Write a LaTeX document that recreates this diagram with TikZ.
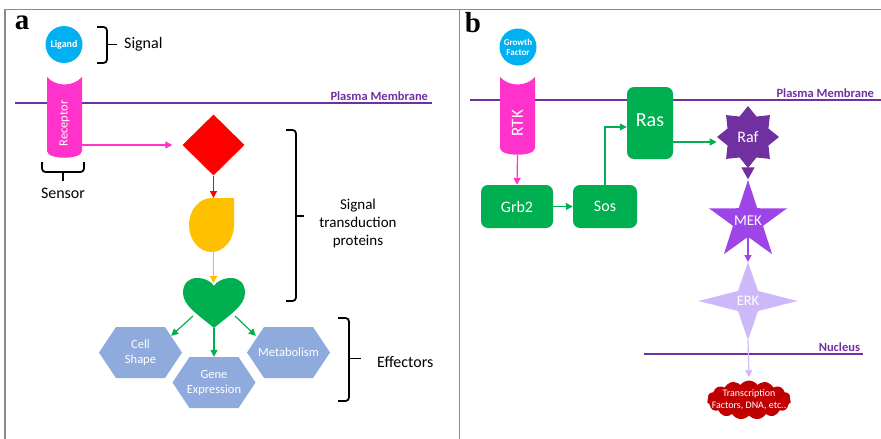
\documentclass[tikz,border=0pt]{standalone}
\usepackage{fontspec}
\setmainfont{Carlito}
\newfontfamily\panelfont{Liberation Serif}
\usetikzlibrary{shapes.geometric,shapes.symbols,arrows.meta,calc}

\definecolor{framec}{HTML}{8C8C8C}
\definecolor{cyanc}{HTML}{00B0F0}
\definecolor{pinkc}{HTML}{FF33CC}
\definecolor{memc}{HTML}{7030A0}
\definecolor{redc}{HTML}{FF0000}
\definecolor{yellowc}{HTML}{FFC000}
\definecolor{greenc}{HTML}{00B050}
\definecolor{hexc}{HTML}{8FAADC}
\definecolor{rafc}{HTML}{7030A0}
\definecolor{mekc}{HTML}{9D45E8}
\definecolor{erkc}{HTML}{CDB8FA}
\definecolor{cloudc}{HTML}{C00000}

\newcommand{\ppbb}{path picture bounding box}

\begin{document}
\begin{tikzpicture}[x=1pt,y=-1pt,
  frame/.style={draw=framec, line width=1.6pt},
  membrane/.style={draw=memc, line width=2pt},
  memlabel/.style={text=memc, font=\bfseries\fontsize{12.5}{14}\selectfont,
    anchor=south east, inner sep=1pt},
  brace/.style={draw=black, line width=1.8pt, rounded corners=3.5pt},
  caption/.style={font=\fontsize{16}{19}\selectfont, inner sep=0},
  panellabel/.style={font=\panelfont\bfseries\fontsize{29}{29}\selectfont, inner sep=0},
  ball/.style={circle, fill=cyanc, minimum size=37pt, inner sep=0, text=white},
  arr/.style={line width=1.2pt, -{Triangle[length=7pt,width=7pt]}},
  bigarr/.style={line width=1.2pt, -{Triangle[length=12pt,width=13pt]}},
  vtext/.style={rotate=90, text=white, inner sep=0},
  ghost/.style={inner sep=0, outer sep=0},
  receptorbody/.style={minimum width=35pt, inner sep=0,
    path picture={\fill[pinkc] (\ppbb.north west)
      .. controls +(9pt,-10pt) and +(-9pt,-10pt) .. (\ppbb.north east)
      -- ([yshift=7pt]\ppbb.south east)
      .. controls +(0pt,-9pt) and +(0pt,-9pt) .. ([yshift=7pt]\ppbb.south west)
      -- cycle;}},
  hexnode/.style={minimum width=83pt, minimum height=51pt, inner sep=0,
    align=center, text=white, font=\fontsize{12.5}{15}\selectfont,
    path picture={\fill[hexc] (\ppbb.west)
      -- ([xshift=17pt]\ppbb.north west) -- ([xshift=-17pt]\ppbb.north east)
      -- (\ppbb.east)
      -- ([xshift=-17pt]\ppbb.south east) -- ([xshift=17pt]\ppbb.south west)
      -- cycle;}},
  gbox/.style={rectangle, rounded corners=7pt, fill=greenc, text=white,
    inner sep=0, font=\fontsize{16}{19}\selectfont},
  starnode/.style={star, inner sep=0},
  startext/.style={text=white, inner sep=0}
]
\useasboundingbox (0,0) rectangle (881,439);

% panel frames
\draw[frame] (5,439) -- (5,9.5) -- (881,9.5);
\draw[frame] (459.5,9.5) -- (459.5,439);

% ---------------- panel a ----------------
\node[panellabel] (la) at (22,23) {a};
\node[ball, font=\bfseries\fontsize{10}{11}\selectfont] (ligand) at (64,44.5) {Ligand};
\draw[brace] (97,27) -- (107,27) -- (107,63) -- (97,63);
\draw[brace] (107,44.5) -- (117,44.5);
\node[caption, anchor=west] (signal) at (124,44.5) {Signal};

\draw[membrane] (15,102.5) -- (432,102.5)
  node[memlabel, xshift=-2pt] (pma) {Plasma Membrane};

\node[receptorbody, minimum height=81pt] (receptor) at (64.5,117.5) {};
\node[vtext, font=\fontsize{12.5}{14}\selectfont] (receptortext)
  at ([yshift=-6pt]receptor.center) {Receptor};

\draw[brace] (42,162) -- (42,172) -- (84,172) -- (84,162);
\draw[brace] (63,172) -- (63,181);
\node[caption] (sensor) at (63,193) {Sensor};

% signal transduction proteins: diamond, teardrop, heart
\node[diamond, fill=redc, minimum width=62pt, minimum height=61pt, inner sep=0]
  (sig1) at (213.5,145) {};
\fill[yellowc] (234,198) -- (211.5,198)
  .. controls (199.1,198) and (189,210.1) .. (189,225)
  .. controls (189,239.9) and (199.1,252) .. (211.5,252)
  .. controls (223.9,252) and (234,239.9) .. (234,225) -- cycle;
\node[ghost, minimum width=45pt, minimum height=54pt] (sig2) at (211.5,225) {};
\fill[greenc] (214,328)
  .. controls (200,316) and (183,306) .. (183,293)
  .. controls (183,283) and (189,278) .. (197,278)
  .. controls (205,278) and (212,282) .. (214,286)
  .. controls (216,282) and (223,278) .. (231,278)
  .. controls (239,278) and (245,283) .. (245,293)
  .. controls (245,306) and (228,316) .. (214,328) -- cycle;
\node[ghost, minimum width=62pt, minimum height=50pt] (sig3) at (214,303) {};
\coordinate (notch) at (214,286);

\draw[arr, pinkc, shorten >=10pt] (receptor.east |- sig1) -- (sig1.west);
\draw[arr, redc] (sig1.south) -- (sig1.south |- sig2.north);
\draw[arr, yellowc, shorten >=3pt] (sig1.south |- sig2.south) -- (sig1.south |- notch);

\draw[brace] (286,130) -- (296,130) -- (296,301) -- (286,301);
\draw[brace] (296,216) -- (304,216);
\node[align=center, inner sep=0, font=\fontsize{15}{18}\selectfont] (transd)
  at (358,223) {Signal\\transduction\\proteins};

\node[hexnode] (cellshape) at (140.5,352.5) {Cell\\Shape};
\node[hexnode] (gene) at (214,382.5) {Gene\\Expression};
\node[hexnode] (metab) at (288.5,352.5) {Metabolism};

\draw[arr, greenc] ($(sig3.center)+(-21,13)$) -- ($(cellshape.north east)+(-11,9)$);
\draw[arr, greenc] (sig3.south) -- (gene.north);
\draw[arr, greenc] ($(sig3.center)+(21,13)$) -- ($(metab.north west)+(9,9)$);

\draw[brace] (338,318) -- (349,318) -- (349,401) -- (338,401);
\draw[brace] (349,358.5) -- (361,358.5);
\node[caption, anchor=west] (effectors) at (377,362) {Effectors};

% ---------------- panel b ----------------
\node[panellabel] (lb) at (473,23) {b};
\node[ball, align=center, font=\bfseries\fontsize{9}{10}\selectfont] (gf)
  at (518,47) {Growth\\Factor};

\draw[membrane] (470,100) -- (881,100)
  node[memlabel, xshift=-5pt] (pmb) {Plasma Membrane};

\node[receptorbody, minimum height=78pt] (rtk) at (517.5,116) {};
\node[vtext, font=\fontsize{17}{20}\selectfont] (rtktext)
  at ([yshift=-7pt]rtk.center) {RTK};

\node[gbox, minimum width=72pt, minimum height=43pt] (grb2) at (517,206.5) {Grb2};
\node[gbox, minimum width=64pt, minimum height=43pt] (sos) at (605,206.5) {Sos};
\node[gbox, minimum width=46pt, minimum height=72pt,
  font=\fontsize{20}{24}\selectfont] (ras) at (650,123) {\raisebox{6pt}{Ras}};

\node[starnode, star points=8, star point ratio=1.4, minimum size=62pt, fill=rafc,
  label={[startext, font=\fontsize{16}{19}\selectfont]center:Raf}] (raf) at (748,137) {};
\node[starnode, star points=5, star point ratio=2.6, minimum size=82pt, fill=mekc,
  label={[startext, font=\fontsize{15}{18}\selectfont]center:MEK}] (mek) at (748,221) {};

\draw[membrane] (644,354) -- (863,354) node[memlabel, xshift=-1pt] (nuc) {Nucleus};

% four-pointed ERK star
\fill[erkc] (748,262) -- (758,291) -- (797.5,301) -- (758,311) -- (748,340)
  -- (738,311) -- (698.5,301) -- (738,291) -- cycle;
\node[ghost, minimum width=99pt, minimum height=78pt, text=white,
  font=\fontsize{14.5}{17}\selectfont] (erk) at (748,301) {ERK};

\node[cloud, cloud puffs=15, cloud puff arc=110, cloud ignores aspect, fill=cloudc,
  minimum width=84pt, minimum height=39pt, inner sep=0] (tf) at (749,400) {};
\node[text=white, align=center, inner sep=0, font=\fontsize{10}{12}\selectfont]
  (tftext) at (tf.center) {Transcription\\Factors, DNA, etc..};

\coordinate (rasout) at ([yshift=-19pt]ras.east);
\draw[arr, pinkc] (rtk.south) -- (grb2.north);
\draw[arr, greenc] (grb2.east) -- (sos.west);
\draw[arr, greenc] (sos.north) |- ([yshift=-4pt]ras.west);
\draw[arr, greenc] (rasout) -- (rasout -| raf.west);
\draw[bigarr, rafc] (raf.south) -- (mek.north);
\draw[arr, mekc] (mek.south) -- (erk.north);
\draw[arr, erkc, shorten >=3pt] (erk.south) -- (tf.north);
\end{tikzpicture}
\end{document}
